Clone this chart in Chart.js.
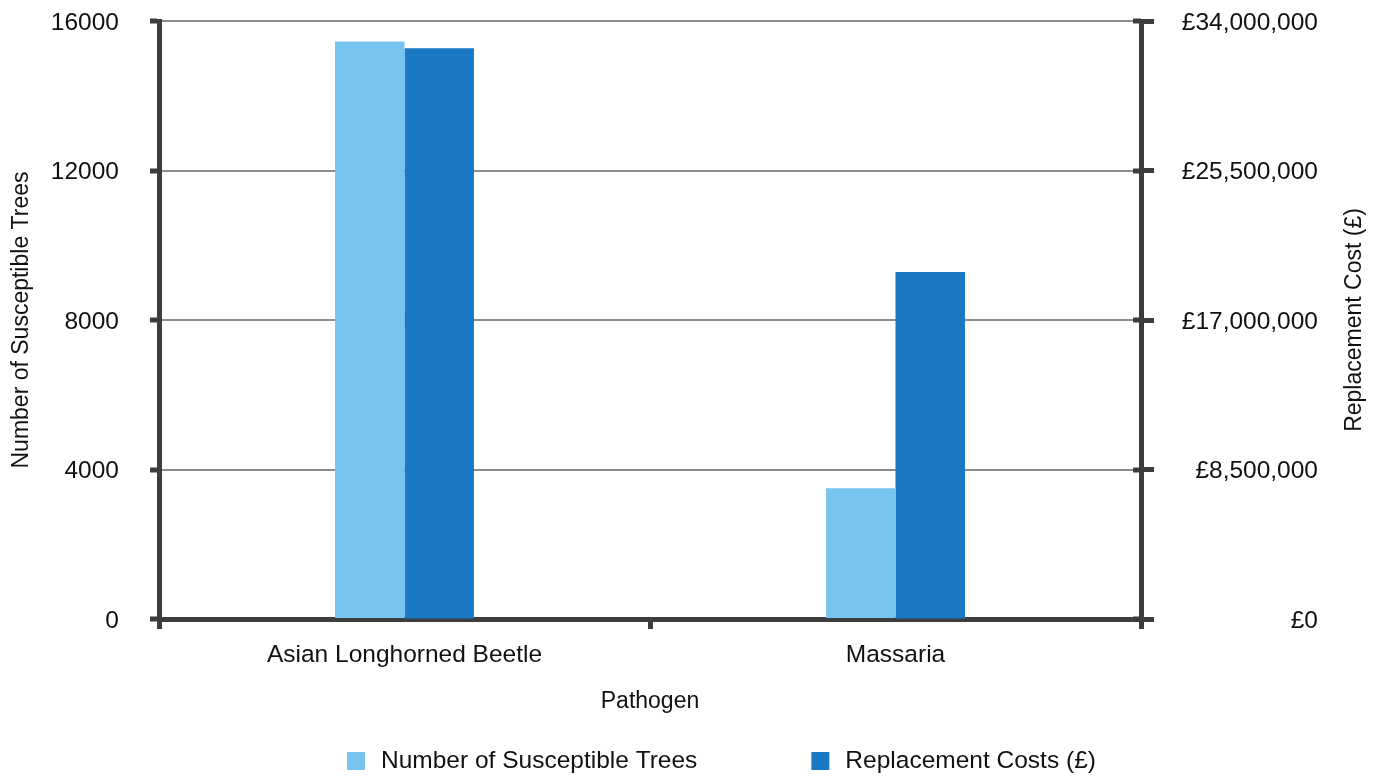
<!DOCTYPE html>
<html>
<head>
<meta charset="utf-8">
<title>Pathogen impact</title>
<script src="https://cdn.jsdelivr.net/npm/chart.js@4/dist/chart.umd.min.js"></script>
<style>
  html, body { margin: 0; padding: 0; background: #fff; }
  #wrap { width: 1382px; height: 778px; position: relative; }
</style>
</head>
<body>
<div id="wrap"><canvas id="c" width="1382" height="778"></canvas></div>
<script>
// Pathogens and their estimated impact
const pathogens = ['Asian Longhorned Beetle', 'Massaria'];
const susceptibleTrees = [15450, 3500];
const replacementCosts = [32450000, 19730000];

const treeTicks = [0, 4000, 8000, 12000, 16000];
const costTicks = [0, 8500000, 17000000, 25500000, 34000000];

const seriesNames = ['Number of Susceptible Trees', 'Replacement Costs (\u00a3)'];
const seriesColors = ['#78c4f0', '#1a79c4'];

const FONT = '"Liberation Sans", Arial, Helvetica, sans-serif';
const AXIS_COLOR = '#3d3d3d';
const GRID_COLOR = '#8c8c8c';
const TEXT_COLOR = '#111111';
const LABEL_SIZE = 24.5;
const TITLE_SIZE = 23;

const fmtPounds = v => '\u00a3' + Math.round(v).toLocaleString('en-GB');

// keep the plot top fixed regardless of tick label padding
const fixVerticalPadding = scale => {
  scale.paddingTop = 21;
  scale.paddingBottom = 0;
};

// Inward half of the right axis tick marks, the rotated right title and the legend
const extras = {
  id: 'extras',
  afterDraw(chart) {
    const ctx = chart.ctx;
    const y1 = chart.scales.y1;
    const x = chart.chartArea.right;
    ctx.save();
    ctx.strokeStyle = AXIS_COLOR;
    ctx.lineWidth = 5;
    costTicks.forEach(v => {
      const py = Math.round(y1.getPixelForValue(v));
      ctx.beginPath();
      ctx.moveTo(x - 8, py);
      ctx.lineTo(x, py);
      ctx.stroke();
    });

    // right axis title, reading bottom to top
    ctx.fillStyle = TEXT_COLOR;
    ctx.font = TITLE_SIZE + 'px ' + FONT;
    ctx.textAlign = 'center';
    ctx.textBaseline = 'middle';
    ctx.translate(1355, (chart.chartArea.top + chart.chartArea.bottom) / 2);
    ctx.rotate(-Math.PI / 2);
    ctx.fillText('Replacement Cost (\u00a3)', 0, 0);
    ctx.restore();

    // legend
    ctx.save();
    ctx.font = LABEL_SIZE + 'px ' + FONT;
    ctx.textBaseline = 'middle';
    ctx.textAlign = 'left';
    const box = 18, gap = 16, itemGap = 114, cy = 761;
    let lx = 347;
    seriesNames.forEach((name, i) => {
      ctx.fillStyle = seriesColors[i];
      ctx.fillRect(lx, cy - box / 2, box, box);
      ctx.fillStyle = TEXT_COLOR;
      ctx.fillText(name, lx + box + gap, cy);
      lx += box + gap + ctx.measureText(name).width + itemGap;
    });
    ctx.restore();
  }
};

new Chart(document.getElementById('c'), {
  type: 'bar',
  data: {
    labels: pathogens,
    datasets: [
      {
        label: seriesNames[0],
        data: susceptibleTrees,
        backgroundColor: seriesColors[0],
        yAxisID: 'y',
        categoryPercentage: 0.283,
        barPercentage: 1.0
      },
      {
        label: seriesNames[1],
        data: replacementCosts,
        backgroundColor: seriesColors[1],
        yAxisID: 'y1',
        categoryPercentage: 0.283,
        barPercentage: 1.0
      }
    ]
  },
  options: {
    responsive: false,
    animation: false,
    devicePixelRatio: 1,
    layout: { padding: { top: 0, bottom: 50, left: 0, right: 64 } },
    plugins: {
      legend: { display: false },
      tooltip: { enabled: false }
    },
    scales: {
      x: {
        offset: true,
        grid: {
          display: true,
          drawOnChartArea: false,
          drawTicks: true,
          tickLength: 10,
          tickWidth: 5,
          tickColor: AXIS_COLOR,
          color: AXIS_COLOR,
          lineWidth: 5
        },
        border: { display: true, color: AXIS_COLOR, width: 5 },
        ticks: {
          color: TEXT_COLOR,
          font: { family: FONT, size: LABEL_SIZE },
          padding: 12,
          maxRotation: 0
        },
        title: {
          display: true,
          text: 'Pathogen',
          color: TEXT_COLOR,
          font: { family: FONT, size: TITLE_SIZE },
          padding: { top: 0, bottom: 13 }
        },
        afterFit(scale) { scale.height = 778 - 50 - 619; }
      },
      y: {
        position: 'left',
        min: 0,
        max: 16000,
        afterBuildTicks(scale) { scale.ticks = treeTicks.map(v => ({ value: v })); },
        grid: {
          color: GRID_COLOR,
          lineWidth: 2,
          tickColor: AXIS_COLOR,
          tickWidth: 5,
          tickLength: 9
        },
        border: { display: true, color: AXIS_COLOR, width: 5 },
        ticks: {
          color: TEXT_COLOR,
          font: { family: FONT, size: LABEL_SIZE },
          padding: 31,
          labelOffset: 2,
          callback: v => String(v)
        },
        title: {
          display: true,
          text: 'Number of Susceptible Trees',
          color: TEXT_COLOR,
          font: { family: FONT, size: TITLE_SIZE },
          padding: { top: 8, bottom: 0 }
        },
        afterFit(scale) { scale.width = 159; fixVerticalPadding(scale); }
      },
      y1: {
        position: 'right',
        min: 0,
        max: 34000000,
        afterBuildTicks(scale) { scale.ticks = costTicks.map(v => ({ value: v })); },
        grid: {
          drawOnChartArea: false,
          tickColor: AXIS_COLOR,
          tickWidth: 5,
          tickLength: 13,
          color: AXIS_COLOR
        },
        border: { display: true, color: AXIS_COLOR, width: 5 },
        ticks: {
          color: TEXT_COLOR,
          font: { family: FONT, size: LABEL_SIZE },
          padding: 29,
          labelOffset: 2,
          crossAlign: 'far',
          callback: v => fmtPounds(v)
        },
        afterFit(scale) { scale.width = 1318 - 1141; fixVerticalPadding(scale); }
      }
    }
  },
  plugins: [extras]
});
</script>
</body>
</html>
